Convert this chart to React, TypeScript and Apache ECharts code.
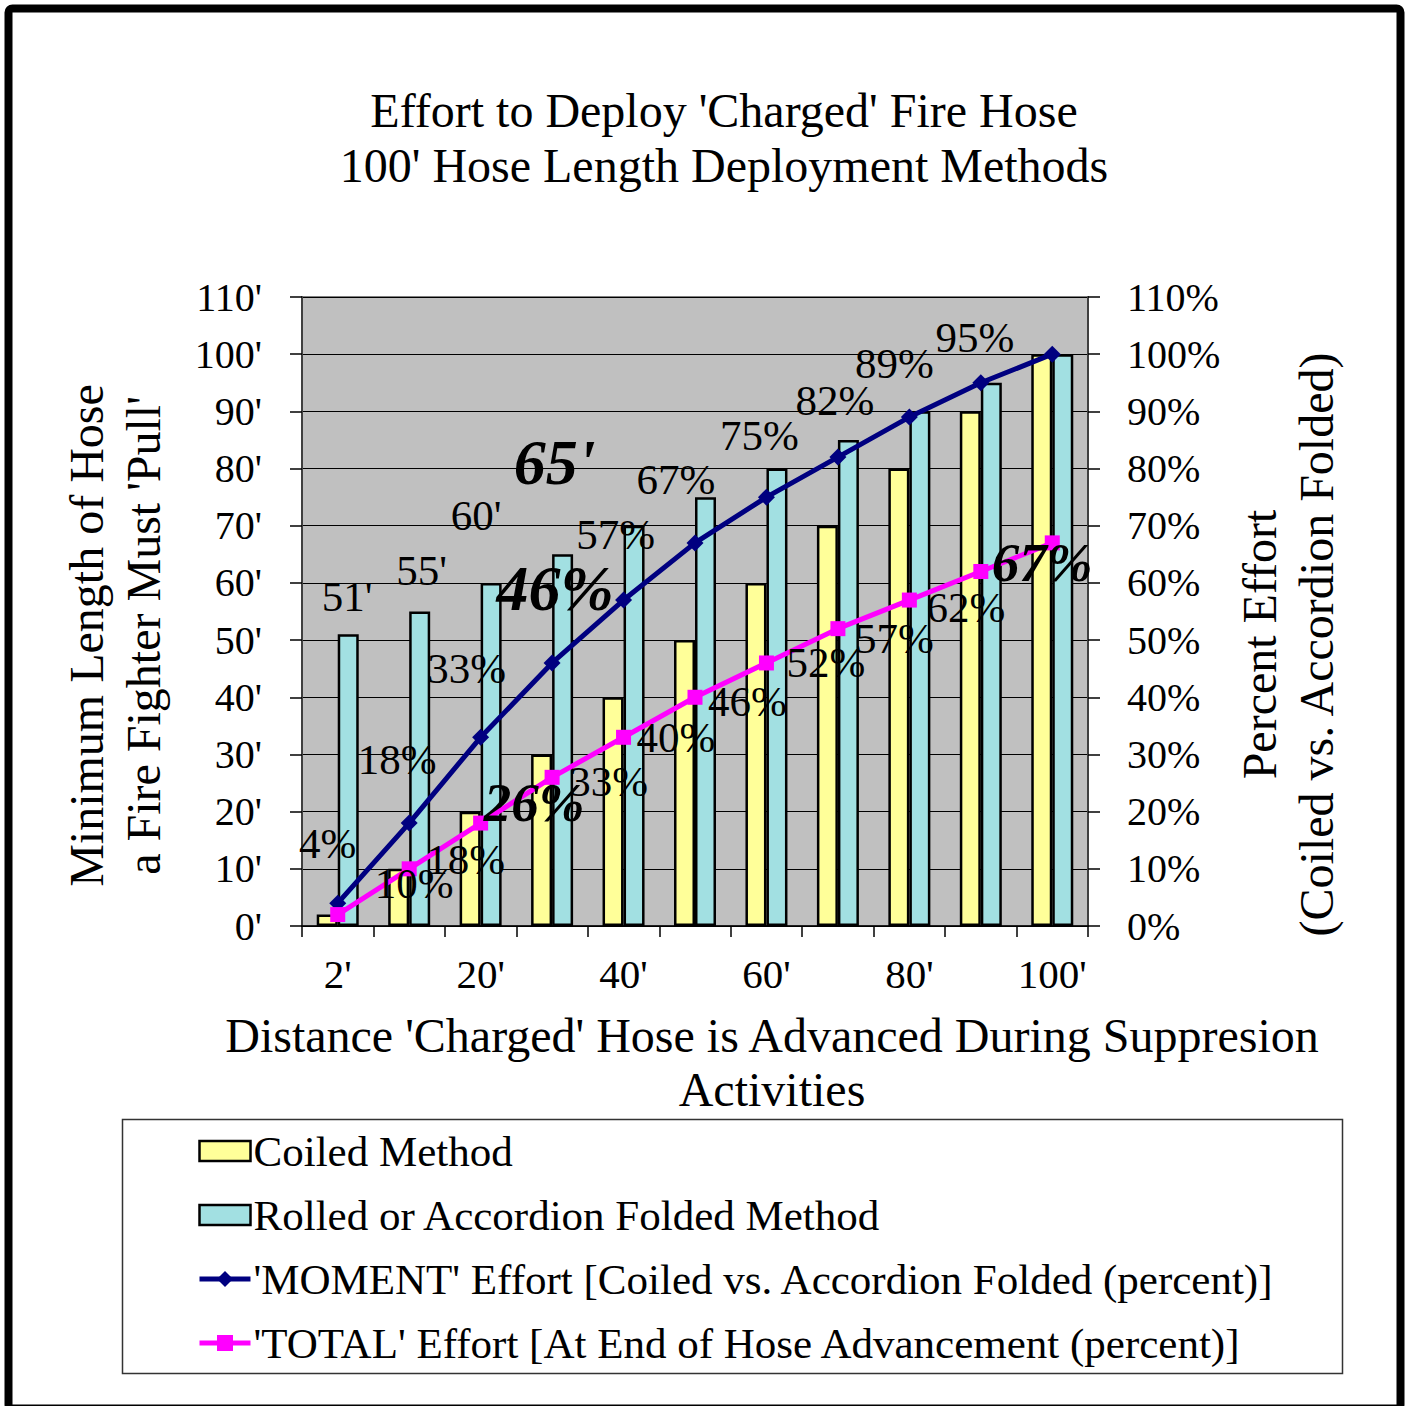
import React, { useEffect, useRef } from "react";
import * as echarts from "echarts";

const categories = ["2'", "10'", "20'", "30'", "40'", "50'", "60'", "70'", "80'", "90'", "100'"];
const coiledValues = [2, 10, 20, 30, 40, 50, 60, 70, 80, 90, 100];
const rolledValues = [51, 55, 60, 65, 70, 75, 80, 85, 90, 95, 100];
const momentValues = [4, 18, 33, 46, 57, 67, 75, 82, 89, 95, 100];
const totalValues = [2, 10, 18, 26, 33, 40, 46, 52, 57, 62, 67];
const yTicksMax = 110;
const yInterval = 10;

const FONT = "'Liberation Serif', 'Times New Roman', serif";

// label placement tweaks: [dx, dy, big]
const rolledLabelPos: (number[] | null)[] = [[-1, -16, 0], [2, -20, 0], [-15, -46, 0], [-8, -60, 1], null, null, null, null, null, null, null];
const momentLabelPos: (number[] | null)[] = [[-10, -60, 0], [-12, -64, 0], [-14, -69, 0], [3, -74, 1], [-8, -66, 0], [-19, -63, 0], [-7, -62, 0], [-3, -57, 0], [-15, -54, 0], [-6, -45, 0], null];
const totalLabelPos: (number[] | null)[] = [null, [5, 15, 0], [-15, 36, 0], [-18, 25, 2], [-15, 44, 0], [-19, 40, 0], [-19, 39, 0], [-12, 34, 0], [-15, 38, 0], [-15, 36, 0], [-10, 20, 2]];

function labelStyle(big: number) {
  if (big === 1) return { fontSize: 64, lineHeight: 64, fontWeight: "bold" as const, fontStyle: "italic" as const };
  if (big === 2) return { fontSize: 55, lineHeight: 55, fontWeight: "bold" as const, fontStyle: "italic" as const };
  return { fontSize: 43, lineHeight: 43, fontWeight: "normal" as const, fontStyle: "normal" as const };
}

function buildBarData(values: number[], pos: (number[] | null)[], suffix: string) {
  return values.map((v, i) => {
    const p = pos[i];
    if (!p) return { value: v, label: { show: false } };
    const st = labelStyle(p[2]);
    return {
      value: v,
      label: {
        show: true,
        position: "top",
        distance: 0,
        offset: [p[0], p[1]],
        formatter: v + suffix,
        color: "#000",
        fontFamily: FONT,
        ...st,
      },
    };
  });
}

function buildLineData(values: number[], pos: (number[] | null)[], suffix: string) {
  return values.map((v, i) => {
    const p = pos[i];
    if (!p) return { value: v, label: { show: false } };
    const st = labelStyle(p[2]);
    return {
      value: v,
      label: {
        show: true,
        position: "inside",
        offset: [p[0], p[1]],
        formatter: v + suffix,
        color: "#000",
        fontFamily: FONT,
        ...st,
      },
    };
  });
}

export default function App() {
  const ref = useRef<HTMLDivElement>(null);
  useEffect(() => {
    document.body.style.margin = "0";
    if (!ref.current) return;
    const chart = echarts.init(ref.current, null, { renderer: "svg" });
    const option: any = {
      animation: false,
      backgroundColor: "#fff",
      textStyle: { fontFamily: FONT, color: "#000" },
      title: {
        text: "Effort to Deploy 'Charged' Fire Hose\n100' Hose Length Deployment Methods",
        left: 724,
        textAlign: "center",
        top: 83,
        padding: 0,
        textStyle: { fontFamily: FONT, fontSize: 48, lineHeight: 55, fontWeight: "normal", color: "#000" },
      },
      grid: {
        left: 302,
        right: 326,
        top: 297,
        bottom: 480,
        show: true,
        backgroundColor: "#c0c0c0",
        borderColor: "#808080",
        borderWidth: 2,
      },
      legend: {
        orient: "vertical",
        left: 197,
        top: 1129,
        itemWidth: 51,
        itemHeight: 20,
        itemGap: 20,
        padding: 0,
        lineStyle: { width: 5 },
        textStyle: { fontFamily: FONT, fontSize: 43, lineHeight: 44, color: "#000", padding: [0, 0, 0, -2] },
        data: [
          { name: "Coiled Method", icon: "rect", itemStyle: { borderColor: "#000", borderWidth: 2.5 } },
          { name: "Rolled or Accordion Folded Method", icon: "rect", itemStyle: { borderColor: "#000", borderWidth: 2.5 } },
          { name: "'MOMENT' Effort [Coiled vs. Accordion Folded (percent)]" },
          { name: "'TOTAL' Effort [At End of Hose Advancement (percent)]" },
        ],
      },
      xAxis: {
        type: "category",
        data: categories,
        boundaryGap: true,
        axisLine: { show: true, lineStyle: { color: "#000", width: 1.5 } },
        axisTick: { show: true, interval: 0, length: 11, lineStyle: { color: "#000", width: 1.5 } },
        axisLabel: { interval: 1, margin: 27, fontFamily: FONT, fontSize: 41, color: "#000" },
        splitLine: { show: false },
      },
      yAxis: [
        {
          type: "value",
          min: 0,
          max: yTicksMax,
          interval: yInterval,
          name: "Minimum Length of Hose\na Fire Fighter Must 'Pull'",
          nameLocation: "middle",
          nameRotate: 90,
          nameGap: 130,
          nameTextStyle: { fontFamily: FONT, fontSize: 48, lineHeight: 57, color: "#000", padding: [0, 48, 0, 0] },
          axisLine: { show: true, lineStyle: { color: "#404040", width: 2 } },
          axisTick: { show: true, length: 12, lineStyle: { color: "#000", width: 1.5 } },
          axisLabel: { margin: 40, formatter: "{value}'", fontFamily: FONT, fontSize: 40, color: "#000" },
          splitLine: { show: true, lineStyle: { color: "#000", width: 1.2 } },
        },
        {
          type: "value",
          min: 0,
          max: yTicksMax,
          interval: yInterval,
          position: "right",
          name: "Percent Effort\n(Coiled vs. Accordion Folded)",
          nameLocation: "middle",
          nameRotate: 90,
          nameGap: 132,
          nameTextStyle: { fontFamily: FONT, fontSize: 48, lineHeight: 57, color: "#000", padding: [0, 66, 0, 0] },
          axisLine: { show: true, lineStyle: { color: "#404040", width: 2 } },
          axisTick: { show: true, length: 12, lineStyle: { color: "#000", width: 1.5 } },
          axisLabel: { margin: 39, formatter: "{value}%", fontFamily: FONT, fontSize: 40, color: "#000" },
          splitLine: { show: false },
        },
      ],
      graphic: [
        {
          type: "rect",
          shape: { x: 8.5, y: 8.5, width: 1392, height: 1400, r: 4 },
          style: { fill: "none", stroke: "#000", lineWidth: 8 },
          silent: true,
        },
        {
          type: "rect",
          shape: { x: 122.5, y: 1119.5, width: 1220, height: 254 },
          style: { fill: "none", stroke: "#333", lineWidth: 1.5 },
          silent: true,
          z: -1,
        },
        {
          type: "text",
          x: 772,
          y: 1062,
          style: {
            text: "Distance 'Charged' Hose is Advanced During Suppresion\nActivities",
            fontFamily: FONT,
            fontSize: 48,
            lineHeight: 54,
            fill: "#000",
            align: "center",
            verticalAlign: "middle",
          },
        },
      ],
      series: [
        {
          name: "Coiled Method",
          type: "bar",
          yAxisIndex: 0,
          barWidth: 21,
          barGap: "0%",
          itemStyle: { color: "#ffff99", borderColor: "#000", borderWidth: 2.5 },
          data: coiledValues,
          z: 2,
        },
        {
          name: "Rolled or Accordion Folded Method",
          type: "bar",
          yAxisIndex: 0,
          barWidth: 21,
          barGap: "0%",
          itemStyle: { color: "#a2e0e2", borderColor: "#000", borderWidth: 2.5 },
          data: buildBarData(rolledValues, rolledLabelPos, "'"),
          z: 2,
        },
        {
          name: "'MOMENT' Effort [Coiled vs. Accordion Folded (percent)]",
          type: "line",
          yAxisIndex: 1,
          symbol: "diamond",
          symbolSize: 17,
          lineStyle: { color: "#000080", width: 5 },
          itemStyle: { color: "#000080" },
          data: buildLineData(momentValues, momentLabelPos, "%"),
          z: 4,
        },
        {
          name: "'TOTAL' Effort [At End of Hose Advancement (percent)]",
          type: "line",
          yAxisIndex: 1,
          symbol: "rect",
          symbolSize: 15,
          lineStyle: { color: "#ff00ff", width: 5 },
          itemStyle: { color: "#ff00ff" },
          data: buildLineData(totalValues, totalLabelPos, "%"),
          z: 5,
        },
      ],
    };
    chart.setOption(option);
    return () => chart.dispose();
  }, []);
  return <div ref={ref} style={{ width: 1414, height: 1406 }} />;
}
